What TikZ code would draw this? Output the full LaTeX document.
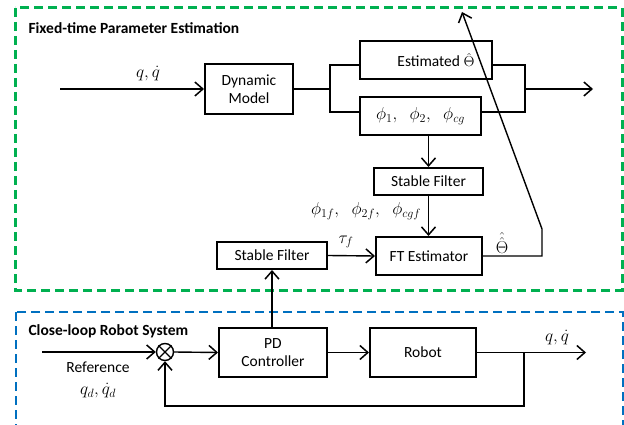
\documentclass[tikz,border=0pt]{standalone}
\usepackage{fontspec}
\setmainfont{Carlito}
\usetikzlibrary{arrows.meta,calc}
\definecolor{offgreen}{RGB}{0,176,80}
\definecolor{offblue}{RGB}{0,112,192}
\begin{document}
\begin{tikzpicture}[x=1pt,y=-1pt,
  blk/.style={draw,line width=2pt,rectangle,minimum width=#1,align=center,font=\fontsize{15.5}{18}\selectfont,inner sep=0pt},
  conn/.style={line width=1.4pt},
  arr/.style={conn,-{Straight Barb[length=8pt,width=14pt,line width=1.5pt]}},
  ttl/.style={font=\bfseries\fontsize{15.5}{18}\selectfont,anchor=west},
  mth/.style={font=\fontsize{17}{18}\selectfont}]
\useasboundingbox (0,0) rectangle (624,425);
\fill[white] (0,0) rectangle (624,425);
% group frames
\draw[offgreen,line width=3pt,dash pattern=on 9pt off 5pt] (15,8) rectangle (622,290);
\begin{scope}
\clip (0,0) rectangle (624,425);
\draw[offblue,line width=2.5pt,dash pattern=on 9pt off 5pt] (16,312) rectangle (623,445);
\end{scope}
\node[ttl] (t1) at (25,28) {Fixed-time Parameter Estimation};
\node[ttl] (t2) at (25,331) {Close-loop Robot System};
% upper blocks
\node[blk=88pt,minimum height=50pt] (dm) at (249,89) {Dynamic\\Model};
\node[blk=132pt,minimum height=38pt] (est) at (426,60) {\hspace*{20pt}Estimated $\hat{\Theta}$};
\node[blk=121pt,minimum height=38pt,font=\fontsize{18}{18}\selectfont] (phi) at (420.5,116) {$\phi_1,\;\;\phi_2,\;\;\phi_{cg}$};
\node[blk=109pt,minimum height=27pt] (sf1) at (428.5,181.5) {Stable Filter};
\node[blk=106pt,minimum height=38pt] (ft) at (429,256) {FT Estimator};
\node[blk=110pt,minimum height=27pt] (sf2) at (272,255.5) {Stable Filter};
% lower blocks
\node[blk=108pt,minimum height=49pt] (pd) at (273,352.5) {PD\\Controller};
\node[blk=106pt,minimum height=49pt] (rob) at (423,352.5) {Robot};
\node[draw,circle,line width=1.4pt,minimum size=17pt,inner sep=0pt] (sum) at (165,352) {};
\draw[line width=1.2pt] (sum.north west) -- (sum.south east) (sum.north east) -- (sum.south west);
% coordinates
\coordinate (in1) at (60,89);
\coordinate (bL) at (330,89);
\coordinate (bLu) at (330,65);
\coordinate (bLd) at (330,112);
\coordinate (bR) at (525,89);
\coordinate (bRu) at (525,65);
\coordinate (bRd) at (525,112);
\coordinate (out1) at (593,89);
\coordinate (th1) at (542,256);
\coordinate (th2) at (542,229);
\coordinate (th3) at (462,12);
\coordinate (ref) at (42,352);
\coordinate (bO) at (524,352.5);
\coordinate (out2) at (586,352.5);
\coordinate (fb1) at (524,406);
\coordinate (fb2) at (165,406);
% connectors upper
\draw[arr] (in1) -- (dm.west);
\draw[conn] (dm.east) -- (bL);
\draw[conn] (est.west |- bLu) -- (bLu) -- (bLd) -- (phi.west |- bLd);
\draw[conn] (est.east |- bRu) -- (bRu) -- (bRd) -- (phi.east |- bRd);
\draw[arr] (bR) -- (out1);
\draw[arr] (phi.south -| sf1.north) -- (sf1.north);
\draw[arr] (sf1.south) -- (ft.north -| sf1.south);
\draw[arr] (sf2.east) -- (ft.west);
\draw[arr] (ft.east) -- (th1) -- (th2) -- (th3);
% connectors lower
\draw[arr] (ref) -- (sum.west);
\draw[arr] (sum.east) -- (pd.west);
\draw[arr] (pd.north -| sf2.south) -- (sf2.south);
\draw[arr] (pd.east) -- (rob.west);
\draw[arr] (rob.east) -- (out2);
\draw[arr] (bO) -- (fb1) -- (fb2) -- (sum.south);
% labels
\node[mth] (lq1) at (148,74) {$q,\dot{q}$};
\node[mth] (lq2) at (557,338) {$q,\dot{q}$};
\node[font=\fontsize{18}{18}\selectfont] (lphf) at (366,211) {$\phi_{1f},\;\;\phi_{2f},\;\;\phi_{cgf}$};
\node[mth] (ltau) at (346,242) {$\tau_f$};
\node[mth] (lth) at (502,243) {$\hat{\hat{\Theta}}$};
\node[font=\fontsize{15.5}{18}\selectfont] (lref) at (98,367) {Reference};
\node[mth] (lqd) at (98,391) {$q_d,\dot{q}_d$};
\end{tikzpicture}
\end{document}
